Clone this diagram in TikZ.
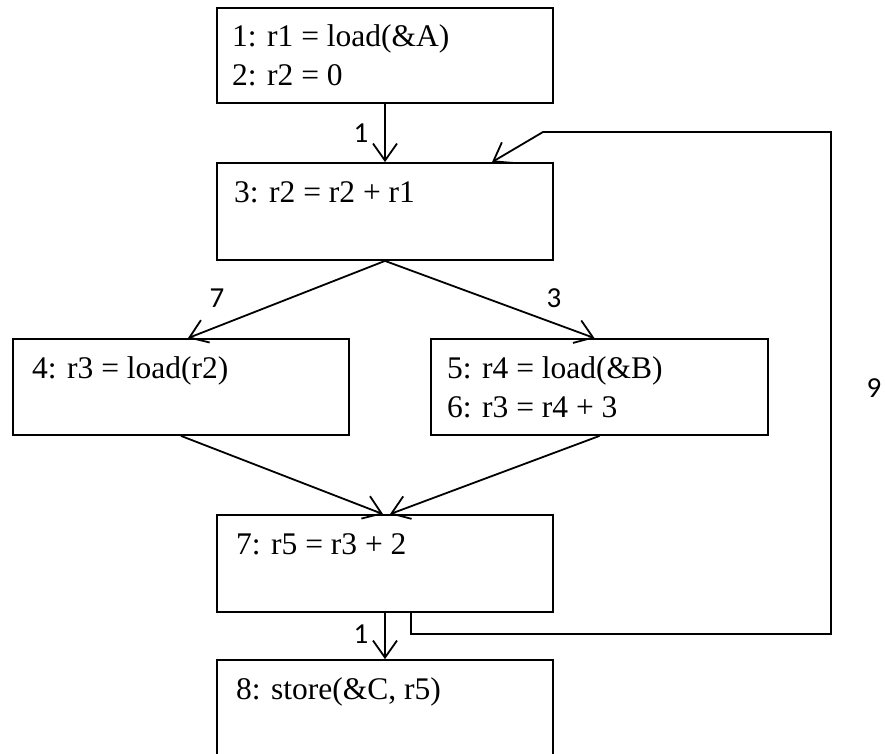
\documentclass[tikz,border=0pt]{standalone}
\usepackage{fontspec}
\setmainfont{Liberation Serif}
\newfontfamily\lblfont{Carlito}
\usetikzlibrary{arrows.meta,calc}
\begin{document}
\begin{tikzpicture}[x=1pt,y=-1pt,
  box/.style={draw,line width=1.8pt,inner sep=0pt,minimum width=336pt},
  code/.style={anchor=base west,inner sep=0pt,font=\fontsize{31.5}{36}\selectfont},
  lbl/.style={inner sep=0pt,font=\lblfont\fontsize{29}{32}\selectfont},
  conn/.style={line width=1.8pt,-{Straight Barb[length=17pt,width=24pt,line width=1.8pt]}},
  ]
\useasboundingbox (0,0) rectangle (885,753);
\node[box,minimum height=95pt] (b1) at (385,55.5) {};
\node[box,minimum height=97pt] (b2) at (385,211.5) {};
\node[box,minimum width=336pt,minimum height=96pt] (b4) at (181,387) {};
\node[box,minimum width=337pt,minimum height=96pt] (b5) at (599.5,387) {};
\node[box,minimum height=97pt] (b7) at (385,563.5) {};
\node[box,minimum height=98pt] (b8) at (385,709) {};

\node[code] (t1) at (232,46) {1: r1 = load(\&A)};
\node[code] (t2) at (232,85) {2: r2 = 0};
\node[code] (t3) at (234,202) {3: r2 = r2 + r1};
\node[code] (t4) at (32,378) {4: r3 = load(r2)};
\node[code] (t5) at (447,378) {5: r4 = load(\&B)};
\node[code] (t6) at (447,417) {6: r3 = r4 + 3};
\node[code] (t7) at (236,554) {7: r5 = r3 + 2};
\node[code] (t8) at (236,699) {8: store(\&C, r5)};

\node[lbl] (l1) at (361,133) {1};
\node[lbl] (l7) at (217,298) {7};
\node[lbl] (l3) at (554,298) {3};
\node[lbl] (l9) at (874,388) {9};
\node[lbl] (l1b) at (361,634) {1};

\coordinate (f1) at ($(b7.south)+(26,0)$);
\coordinate (f2) at (411,634);
\coordinate (f3) at (831,634);
\coordinate (f4) at (831,132);
\coordinate (f5) at (543,132);

\draw[conn] (b1.south) -- (b2.north);
\draw[conn] (b2.south) -- ($(b4.north)+(7,0)$);
\draw[conn] (b2.south) -- ($(b5.north)+(-5,0)$);
\draw[conn] (b4.south) -- ($(b7.north)+(-2,0)$);
\draw[conn] (b5.south) -- ($(b7.north)+(5,0)$);
\draw[conn] (b7.south) -- (b8.north);
\draw[conn,line join=miter] (f1) -- (f2) -- (f3) -- (f4) -- (f5) -- ($(b2.north)+(107,0)$);
\end{tikzpicture}
\end{document}
